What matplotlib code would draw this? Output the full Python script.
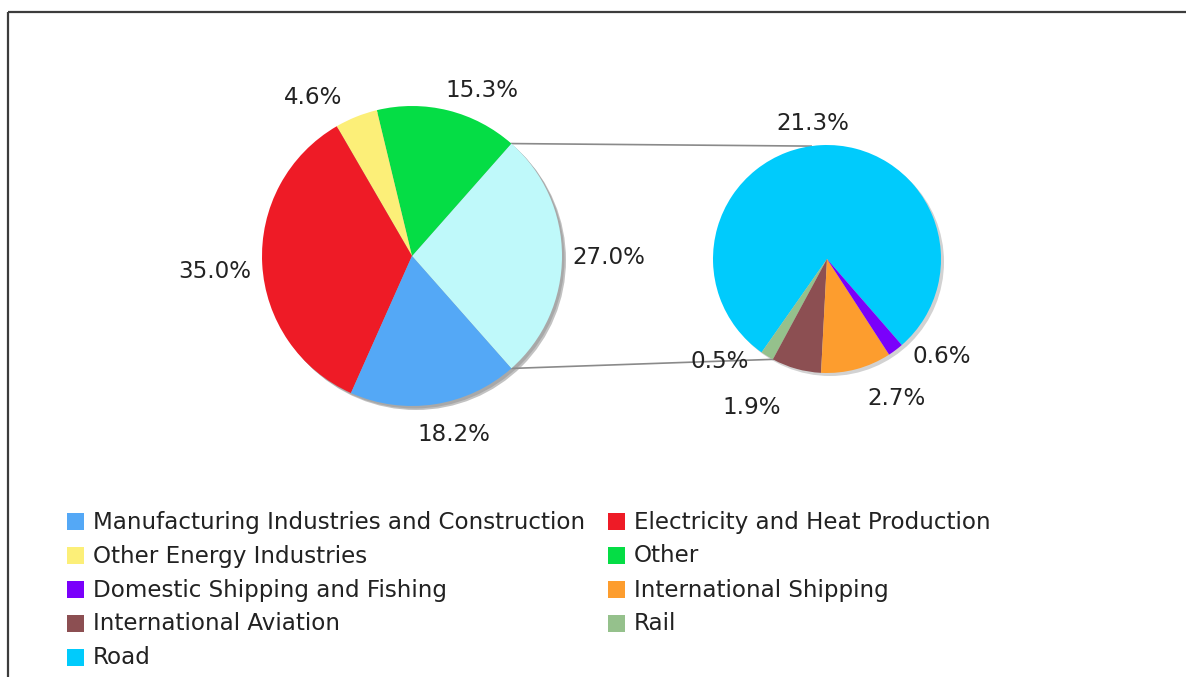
import matplotlib
matplotlib.use('Agg')
import matplotlib.pyplot as plt
from matplotlib.patches import Circle, Rectangle
import numpy as np

# main pie: share of total emissions (%)
MAIN_NAMES = ['Transport', 'Other', 'Other Energy Industries',
              'Electricity and Heat Production',
              'Manufacturing Industries and Construction']
MAIN_VALUES = [27.0, 15.3, 4.6, 35.0, 18.2]
MAIN_COLORS = ['#bff9fa', '#05dd45', '#fcef78', '#ee1b26', '#54a8f6']

# transport broken down (% of total)
SUB_NAMES = ['Road', 'Rail', 'International Aviation', 'International Shipping',
             'Domestic Shipping and Fishing']
SUB_VALUES = [21.3, 0.5, 1.9, 2.7, 0.6]
SUB_COLORS = ['#00cbfc', '#95c18c', '#8c4f52', '#fd9d2e', '#7a00fb']

LEGEND_COL1 = ['Manufacturing Industries and Construction', 'Other Energy Industries',
               'Domestic Shipping and Fishing', 'International Aviation', 'Road']
LEGEND_COL2 = ['Electricity and Heat Production', 'Other', 'International Shipping', 'Rail']

# label placement (radius factor, angle nudge in deg)
MAIN_LBL_DIST = [1.31, 1.21, 1.26, 1.32, 1.21]
MAIN_LBL_NUDGE = [0, -8.7, 9.8, 0.8, 4.7]
SUB_LBL_DIST = [1.21, 1.29, 1.44, 1.35, 1.31]
SUB_LBL_NUDGE = [3, -15, -11.5, 12, 13]

W, H = 1186, 677
FS = 16.6
TXT = '#222222'

fig = plt.figure(figsize=(W / 100, H / 100), dpi=100)
ax = fig.add_axes([0, 0, 1, 1])

main_c, main_r = (412, H - 256), 150
sub_c, sub_r = (827, H - 259), 114


def shadow(c, r, off, color):
    ax.add_patch(Circle((c[0] + off, c[1] - off), r, color=color, lw=0, zorder=0))


def put_labels(wedges, values, c, r, dists, nudges):
    for w, v, d, n in zip(wedges, values, dists, nudges):
        ang = np.deg2rad((w.theta1 + w.theta2) / 2 + n)
        ax.text(c[0] + d * r * np.cos(ang), c[1] + d * r * np.sin(ang) - 2,
                f'{v:.1f}%', ha='center', va='center', fontsize=FS, color=TXT)


def rim(c, r, deg):
    a = np.deg2rad(deg)
    return c[0] + r * np.cos(a), c[1] + r * np.sin(a)


shadow(main_c, main_r, 4, '#c2c2c2')
shadow(main_c, main_r, 2.5, '#a8a8a8')
shadow(sub_c, sub_r, 3, '#d2d2d2')

main_start = -MAIN_VALUES[0] / sum(MAIN_VALUES) * 180
wedges_m, _ = ax.pie(MAIN_VALUES, colors=MAIN_COLORS, startangle=main_start,
                     center=main_c, radius=main_r, wedgeprops=dict(linewidth=0))
wedges_s, _ = ax.pie(SUB_VALUES, colors=SUB_COLORS, startangle=-49,
                     center=sub_c, radius=sub_r, wedgeprops=dict(linewidth=0))

put_labels(wedges_m, MAIN_VALUES, main_c, main_r, MAIN_LBL_DIST, MAIN_LBL_NUDGE)
put_labels(wedges_s, SUB_VALUES, sub_c, sub_r, SUB_LBL_DIST, SUB_LBL_NUDGE)

# connector lines between the transport slice and the breakdown pie
x0, y0 = rim(main_c, main_r, wedges_m[0].theta2)
x1, y1 = rim(sub_c, sub_r, 98)
ax.plot([x0, x1], [y0, y1], color='#8a8a8a', lw=1.2, zorder=0.5)
x0, y0 = rim(main_c, main_r, wedges_m[0].theta1)
x1, y1 = rim(sub_c, sub_r, wedges_s[1].theta2)
ax.plot([x0, x1], [y0, y1], color='#8a8a8a', lw=1.2, zorder=0.5)

# legend, drawn by hand in two columns
color_of = dict(zip(MAIN_NAMES + SUB_NAMES, MAIN_COLORS + SUB_COLORS))
for xs, names in zip([67, 608], [LEGEND_COL1, LEGEND_COL2]):
    for row, name in enumerate(names):
        yc = H - (521 + row * 34)
        ax.add_patch(Rectangle((xs, yc - 8.5), 17, 17, color=color_of[name], lw=0))
        ax.text(xs + 26, yc - 1, name, ha='left', va='center', fontsize=FS, color=TXT)

# frame (top and left edges only are inside the picture)
ax.plot([8, W], [H - 12, H - 12], color='#3c3c3c', lw=1.6, solid_capstyle='butt')
ax.plot([8, 8], [H - 12, 0], color='#3c3c3c', lw=1.6, solid_capstyle='butt')

ax.set_xlim(0, W)
ax.set_ylim(0, H)
ax.axis('off')

fig.savefig('out.png', dpi=100)
